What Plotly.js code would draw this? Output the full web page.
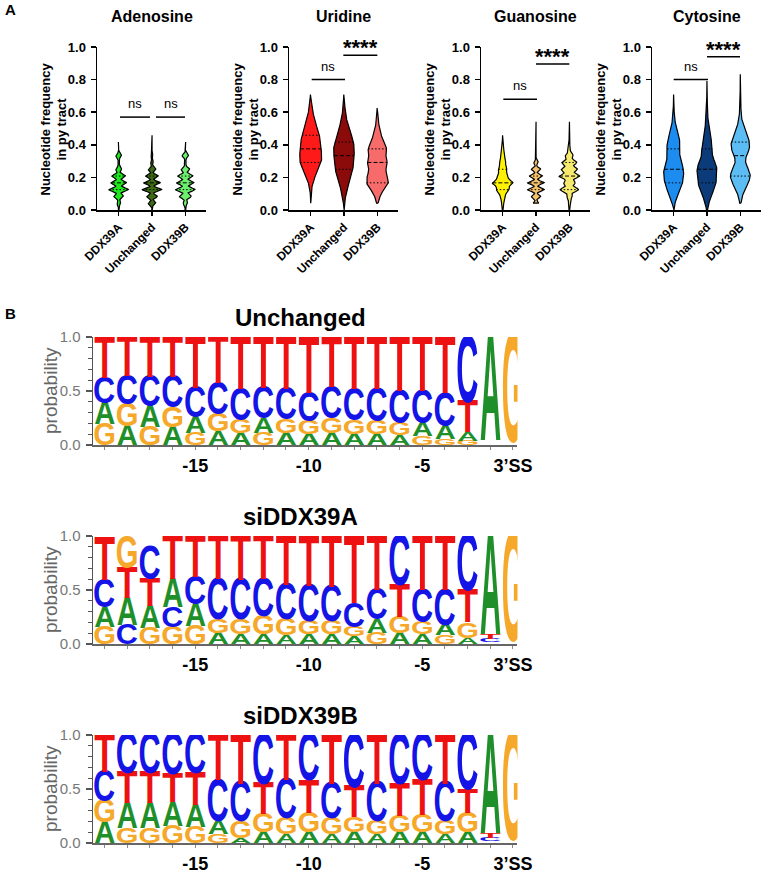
<!DOCTYPE html>
<html>
<head>
<meta charset="utf-8">
<script src="https://cdn.plot.ly/plotly-3.0.1.min.js"></script>
<style>html,body{margin:0;padding:0;background:#fff;}#chart{width:764px;height:874px;}</style>
</head>
<body>
<div id="chart"></div>
<script>
// ===================== DATA =====================
const nucleotides = ['Adenosine', 'Uridine', 'Guanosine', 'Cytosine'];
const groups = ['DDX39A', 'Unchanged', 'DDX39B'];
// nucleotide frequency levels in the py tract (k/24)
const frequencyLevels = [0, 0.0417, 0.0833, 0.125, 0.1667, 0.2083, 0.25, 0.2917, 0.3333, 0.375, 0.4167,
  0.4583, 0.5, 0.5417, 0.5833, 0.625, 0.6667, 0.7083, 0.75, 0.7917, 0.8333];
// relative number of introns at each frequency level
const adenosineDDX39A    = [0.3, 2, 5, 10, 8, 7, 3, 1, 3, 0, 0.3];
const adenosineUnchanged = [0.2, 4, 5.5, 10, 8.5, 6.5, 4, 1.5, 1, 0.1, 0.05, 0.05];
const adenosineDDX39B    = [0.3, 2, 5.5, 9, 8, 7, 4, 1, 3, 0, 0.3];
const uridineDDX39A      = [0, 0.05, 0.2, 0.5, 2, 4, 7, 10, 10, 9.5, 9, 8, 6, 4, 2.5, 1.3, 0.6, 0.2];
const uridineUnchanged   = [0.1, 0.5, 1.5, 3, 5, 7, 9, 9.5, 10, 10.5, 9.5, 7.5, 5, 3, 1.8, 1, 0.5, 0.2];
const uridineDDX39B      = [0, 0.5, 2, 5, 9, 8, 6.5, 8, 6.5, 7.5, 5.5, 3, 1.8, 0.9, 0.4, 0.2];
const guanosineDDX39A    = [0.3, 1, 2.5, 6, 10, 5, 4, 3, 2, 1, 0.3, 0.1];
const guanosineUnchanged = [0, 3, 5, 9, 9, 7, 5, 2.5, 0.2, 0.6, 0.05, 0.05, 0.05, 0.05];
const guanosineDDX39B    = [0.3, 1, 2.5, 8, 5, 9, 7, 6.5, 3.5, 1, 0.4, 0.2, 0.1, 0.1];
const cytosineDDX39A     = [0.2, 1, 3, 6, 8, 9, 9, 7, 5, 6, 6, 4, 2.5, 1.2, 0.6, 0.3, 0.15, 0.05];
const cytosineUnchanged  = [0.3, 1.5, 3.5, 6, 8, 8, 9, 7, 4.2, 5, 4, 3, 1.8, 1, 0.6, 0.4, 0.25, 0.15, 0.08, 0.05];
const cytosineDDX39B     = [0, 0.5, 1.5, 4, 7, 9, 7, 4, 5, 8, 8, 6, 3.5, 1.5, 0.8, 0.5, 0.3, 0.2, 0.1, 0.08, 0.05];

// significance comparisons per panel
const sigLabels = [['ns', 'ns'], ['ns', '****'], ['ns', '****'], ['ns', '****']];
const sigFrom   = [[0.04, 1.12], [0.03, 0.98], [0.02, 1.0], [0.0, 1.0]];
const sigTo     = [[0.94, 1.99], [1.03, 2.0], [1.03, 2.0], [1.03, 1.99]];
const sigLevel  = [[0.57, 0.57], [0.80, 0.95], [0.68, 0.895], [0.80, 0.94]];

// sequence logos: positions upstream of the 3' splice site
const positions = [-19, -18, -17, -16, -15, -14, -13, -12, -11, -10, -9, -8, -7, -6, -5, -4, -3, -2, -1];
const logoTickVals = [-15, -10, -5, -1];
const logoTickText = ['-15', '-10', '-5', '3’SS'];
const logoTitles = ['Unchanged', 'siDDX39A', 'siDDX39B'];
const unchangedT = [.38,.36,.37,.37,.47,.43,.48,.47,.48,.52,.46,.48,.48,.50,.50,.52,.28,.02,.01];
const unchangedC = [.23,.26,.27,.28,.27,.28,.29,.28,.28,.26,.29,.29,.30,.30,.30,.30,.60,.02,.01];
const unchangedA = [.20,.18,.19,.17,.15,.13,.11,.14,.11,.10,.11,.10,.10,.09,.12,.12,.08,.95,.02];
const unchangedG = [.19,.20,.17,.18,.11,.16,.12,.11,.13,.12,.14,.13,.12,.11,.08,.06,.04,.01,.96];
const siDDX39AT = [.39,.27,.25,.40,.38,.40,.41,.40,.45,.46,.47,.62,.50,.30,.50,.50,.30,.04,.01];
const siDDX39AC = [.25,.18,.30,.18,.25,.37,.36,.34,.32,.33,.32,.22,.27,.45,.30,.32,.50,.03,.01];
const siDDX39AA = [.18,.25,.20,.26,.20,.10,.09,.09,.08,.09,.09,.07,.13,.10,.09,.10,.06,.91,.02];
const siDDX39AG = [.16,.28,.15,.16,.17,.13,.14,.17,.15,.12,.12,.09,.10,.15,.11,.08,.14,.02,.96];
const siDDX39BT = [.34,.28,.28,.26,.30,.42,.45,.28,.42,.30,.45,.28,.45,.30,.32,.45,.22,.04,.01];
const siDDX39BC = [.27,.35,.35,.36,.35,.38,.35,.45,.35,.42,.32,.48,.35,.45,.42,.35,.50,.03,.01];
const siDDX39BA = [.19,.23,.23,.22,.20,.12,.05,.10,.08,.10,.08,.10,.08,.10,.10,.08,.10,.91,.02];
const siDDX39BG = [.20,.14,.14,.16,.15,.08,.15,.17,.15,.18,.15,.14,.12,.15,.16,.12,.18,.02,.96];

// ===================== STYLE =====================
const W = 764, H = 874;
const FONT = 'Liberation Sans, Arial, sans-serif';
const violinColors = [
  ['#1ee81e', '#3d6b14', '#6cf06c'],
  ['#ff1a1a', '#8b0a0a', '#f76b6b'],
  ['#fff200', '#f5c26b', '#f6ea6e'],
  ['#1c8cf0', '#0c3b7a', '#5cbcf4']];
const violinBw = [[0.011, 0.010, 0.011], [0.026, 0.026, 0.02], [0.016, 0.010, 0.013], [0.024, 0.024, 0.022]];
const violinHalfWidth = [[0.29, 0.29, 0.29], [0.33, 0.31, 0.33], [0.31, 0.25, 0.31], [0.30, 0.30, 0.30]];
const panelLeftPx = [97, 289, 481, 652], panelWidthPx = 109, panelTopPx = 47, panelBottomPx = 210;
const logoLeftPx = 93;
const logoTopPx = [337, 536, 735], logoHeightPx = 108;
const logoRange = [-19.5, -0.8];
const logoColPx = 22.7;
const logoRightPx = logoLeftPx + logoColPx * (logoRange[1] - logoRange[0]);
const minDrawnLetter = 0.03; // letters thinner than this are not drawn (invisible in a logo)
const letterColors = {A: '#1f8f2a', C: '#1414e6', G: '#f5a82a', T: '#ee1111'};

const data = {
  violins: [
    [adenosineDDX39A, adenosineUnchanged, adenosineDDX39B],
    [uridineDDX39A, uridineUnchanged, uridineDDX39B],
    [guanosineDDX39A, guanosineUnchanged, guanosineDDX39B],
    [cytosineDDX39A, cytosineUnchanged, cytosineDDX39B]],
  logos: [
    {A: unchangedA, C: unchangedC, G: unchangedG, T: unchangedT},
    {A: siDDX39AA, C: siDDX39AC, G: siDDX39AG, T: siDDX39AT},
    {A: siDDX39BA, C: siDDX39BC, G: siDDX39BG, T: siDDX39BT}]
};

// ===================== HELPERS =====================
function density(counts, bw, y) {
  let s = 0;
  for (let k = 0; k < counts.length; k++) {
    const c = counts[k];
    if (c > 0) { const z = (y - frequencyLevels[k]) / bw; s += c * Math.exp(-0.5 * z * z); }
  }
  return s;
}
function quantile(counts, p) {
  const tot = counts.reduce((a, b) => a + b, 0);
  let cum = 0;
  for (let k = 0; k < counts.length; k++) {
    cum += counts[k];
    if (cum >= p * tot - 1e-9) return frequencyLevels[k];
  }
  return frequencyLevels[counts.length - 1];
}
const ax = (l, n) => l + (n === 1 ? '' : n);
const axKey = (l, n) => l + 'axis' + (n === 1 ? '' : n);

const traces = [];
const layout = {
  width: W, height: H, margin: {l: 0, r: 0, t: 0, b: 0},
  paper_bgcolor: '#fff', plot_bgcolor: 'rgba(0,0,0,0)',
  font: {family: FONT, color: '#000'}, showlegend: false,
  annotations: [], shapes: []
};

// ===================== VIOLIN PANELS =====================
nucleotides.forEach((name, p) => {
  const n = p + 1;
  const xd = [panelLeftPx[p] / W, (panelLeftPx[p] + panelWidthPx) / W];
  const yd = [1 - panelBottomPx / H, 1 - panelTopPx / H];
  layout[axKey('x', n)] = {
    domain: xd, range: [-0.65, 2.62], anchor: ax('y', n),
    tickvals: [0, 1, 2], ticktext: groups, tickangle: -45,
    tickfont: {size: 12, weight: 'bold', family: FONT, color: '#000'},
    showline: true, linecolor: '#000', linewidth: 1.5, ticks: 'outside', ticklen: 4, tickwidth: 1.5, tickcolor: '#000',
    showgrid: false, zeroline: false, fixedrange: true
  };
  layout[axKey('y', n)] = {
    domain: yd, range: [0, 1], anchor: ax('x', n),
    tickvals: [0, 0.2, 0.4, 0.6, 0.8, 1.0], ticktext: ['0.0', '0.2', '0.4', '0.6', '0.8', '1.0'],
    tickfont: {size: 13, weight: 'bold', family: FONT, color: '#000'},
    showline: true, linecolor: '#000', linewidth: 1.5, ticks: 'outside', ticklen: 5, tickwidth: 1.5, tickcolor: '#000',
    showgrid: false, zeroline: false, fixedrange: true, ticklabelstandoff: 2
  };
  const medX = [], medY = [], qX = [], qY = [];
  data.violins[p].forEach((counts, g) => {
    const bw = violinBw[p][g], hwMax = violinHalfWidth[p][g];
    let kmin = counts.findIndex(c => c > 0), kmax = counts.length - 1;
    while (counts[kmax] <= 0) kmax--;
    const y0 = frequencyLevels[kmin], y1 = frequencyLevels[kmax];
    const N = 400, ys = [], ds = [];
    for (let i = 0; i <= N; i++) { const y = y0 + (y1 - y0) * i / N; ys.push(y); ds.push(density(counts, bw, y)); }
    const mx = Math.max(...ds);
    const xs = [], yy = [];
    for (let i = 0; i <= N; i++) { xs.push(g + hwMax * ds[i] / mx); yy.push(ys[i]); }
    for (let i = N; i >= 0; i--) { xs.push(g - hwMax * ds[i] / mx); yy.push(ys[i]); }
    xs.push(xs[0]); yy.push(yy[0]);
    traces.push({type: 'scatter', mode: 'lines', x: xs, y: yy, fill: 'toself', fillcolor: violinColors[p][g],
      line: {color: '#000', width: 1.2}, xaxis: ax('x', n), yaxis: ax('y', n), hoverinfo: 'skip', showlegend: false});
    [0.25, 0.5, 0.75].forEach(q => {
      const v = quantile(counts, q);
      const hw = hwMax * density(counts, bw, v) / mx;
      if (q === 0.5) { medX.push(g - hw, g + hw, null); medY.push(v, v, null); }
      else { qX.push(g - hw, g + hw, null); qY.push(v, v, null); }
    });
  });
  traces.push({type: 'scatter', mode: 'lines', x: medX, y: medY, line: {color: '#000', width: 1, dash: '4px,2px'},
    xaxis: ax('x', n), yaxis: ax('y', n), hoverinfo: 'skip', showlegend: false, connectgaps: false});
  traces.push({type: 'scatter', mode: 'lines', x: qX, y: qY, line: {color: '#000', width: 1, dash: '1.5px,2px'},
    xaxis: ax('x', n), yaxis: ax('y', n), hoverinfo: 'skip', showlegend: false, connectgaps: false});

  layout.annotations.push({text: name, xref: 'paper', yref: 'paper', x: (panelLeftPx[p] + panelWidthPx / 2) / W, y: 1 - 17 / H,
    xanchor: 'center', yanchor: 'middle', showarrow: false, font: {size: 16, weight: 'bold', family: FONT, color: '#000'}});
  layout.annotations.push({text: 'Nucleotide frequency<br>in py tract', xref: 'paper', yref: 'paper',
    x: (panelLeftPx[p] - 44) / W, y: 1 - ((panelTopPx + panelBottomPx) / 2 + 1) / H, textangle: -90,
    xanchor: 'center', yanchor: 'middle', showarrow: false, font: {size: 13, weight: 'bold', family: FONT, color: '#000'}});
  sigLabels[p].forEach((lab, j) => {
    const h = sigLevel[p][j];
    layout.shapes.push({type: 'line', xref: ax('x', n), yref: ax('y', n), x0: sigFrom[p][j], x1: sigTo[p][j], y0: h, y1: h,
      line: {color: '#000', width: 1.5}});
    const star = lab !== 'ns';
    layout.annotations.push({text: lab, xref: ax('x', n), yref: ax('y', n), x: (sigFrom[p][j] + sigTo[p][j]) / 2, y: h,
      xanchor: 'center', yanchor: 'bottom', yshift: star ? -7 : 4, showarrow: false,
      font: star ? {size: 22, weight: 'bold', family: FONT, color: '#000'} : {size: 13, family: FONT, color: '#000'}});
  });
});

layout.annotations.push({text: 'A', xref: 'paper', yref: 'paper', x: 3 / W, y: 1 - 10 / H, xanchor: 'left', yanchor: 'middle',
  showarrow: false, font: {size: 15, weight: 'bold', family: FONT, color: '#000'}});
layout.annotations.push({text: 'B', xref: 'paper', yref: 'paper', x: 3 / W, y: 1 - 313 / H, xanchor: 'left', yanchor: 'middle',
  showarrow: false, font: {size: 15, weight: 'bold', family: FONT, color: '#000'}});

// ===================== SEQUENCE LOGOS =====================
const letters = ['A', 'C', 'G', 'T'];
const logoHeights = [];
data.logos.forEach((logo, li) => {
  const n = 5 + li;
  const top = logoTopPx[li];
  layout[axKey('x', n)] = {
    domain: [logoLeftPx / W, logoRightPx / W], range: logoRange, anchor: ax('y', n),
    tickvals: logoTickVals, ticktext: logoTickText,
    tickfont: {size: 18, weight: 'bold', family: FONT, color: '#000'},
    showline: true, linecolor: '#666', linewidth: 1.5, ticks: 'outside', ticklen: 3, tickcolor: '#888', tickwidth: 1,
    minor: {dtick: 1, tick0: -19, ticks: 'outside', ticklen: 3, tickcolor: '#888', tickwidth: 1},
    showgrid: false, zeroline: false, fixedrange: true, ticklabelstandoff: 1
  };
  layout[axKey('y', n)] = {
    domain: [1 - (top + logoHeightPx) / H, 1 - top / H], range: [0, 1], anchor: ax('x', n),
    tickvals: [0, 0.5, 1], ticktext: ['0.0', '0.5', '1.0'],
    tickfont: {size: 15, family: FONT, color: '#777'},
    showline: true, linecolor: '#555', linewidth: 1.5, ticks: 'outside', ticklen: 6, tickcolor: '#555', tickwidth: 1.2,
    minor: {dtick: 0.1, ticks: 'outside', ticklen: 4, tickcolor: '#555', tickwidth: 1},
    showgrid: false, zeroline: false, fixedrange: true, ticklabelstandoff: 2
  };
  const xs = [], ys = [], txt = [], cols = [], hts = [];
  positions.forEach((pos, i) => {
    const stack = letters.map(L => ({L, p: logo[L][i]})).sort((a, b) => a.p - b.p);
    let base = 0;
    stack.forEach(o => {
      if (o.p >= minDrawnLetter) { xs.push(pos); ys.push(base); txt.push(o.L); cols.push(letterColors[o.L]); hts.push(o.p); }
      base += o.p;
    });
  });
  logoHeights.push(hts);
  traces.push({type: 'scatter', mode: 'text', x: xs, y: ys, text: txt, customdata: hts, meta: 'logo' + li,
    textposition: 'middle center', cliponaxis: true,
    textfont: {family: 'Liberation Sans', size: 30, weight: 'bold', color: cols},
    xaxis: ax('x', n), yaxis: ax('y', n), hoverinfo: 'skip', showlegend: false});
  layout.annotations.push({text: logoTitles[li], xref: 'paper', yref: 'paper', x: 300 / W, y: 1 - (top - 20) / H,
    xanchor: 'center', yanchor: 'middle', showarrow: false, font: {size: 24, weight: 'bold', family: FONT, color: '#000'}});
  layout.annotations.push({text: 'probability', xref: 'paper', yref: 'paper', x: 50 / W, y: 1 - (top + logoHeightPx / 2) / H,
    textangle: -90, xanchor: 'center', yanchor: 'middle', showarrow: false, font: {size: 19, family: FONT, color: '#666'}});
});

// stretch logo letters to fill their (column x probability) boxes
function stretchLetters(gd) {
  const ctx = document.createElement('canvas').getContext('2d');
  const fs = 30;
  ctx.font = 'bold ' + fs + 'px "Liberation Sans"';
  const met = {};
  letters.forEach(L => {
    const m = ctx.measureText(L);
    met[L] = {left: m.actualBoundingBoxLeft, right: m.actualBoundingBoxRight, asc: m.actualBoundingBoxAscent, desc: m.actualBoundingBoxDescent};
  });
  const colPx = logoColPx;
  const unitPx = logoHeightPx;
  gd.querySelectorAll('g.trace.scatter').forEach(g => {
    const cd = g.__data__;
    if (!cd || !cd[0] || !cd[0].trace) return;
    const tr = cd[0].trace;
    if (typeof tr.meta !== 'string' || tr.meta.indexOf('logo') !== 0) return;
    const hts = logoHeights[+tr.meta.slice(4)];
    g.querySelectorAll('g.textpoint text').forEach((t, idx) => {
      const d = t.__data__;
      const i = (d && typeof d.i === 'number') ? d.i : idx;
      const L = t.textContent.trim();
      const m = met[L]; if (!m) return;
      const cx = +t.getAttribute('x'), by = +t.getAttribute('y');
      const h = hts[i] * unitPx, w = 0.9 * colPx;
      const sx = w / (m.left + m.right), sy = h / (m.asc + m.desc);
      t.parentNode.removeAttribute('transform');
      t.setAttribute('x', 0); t.setAttribute('y', 0); t.removeAttribute('dy');
      t.setAttribute('text-anchor', 'start');
      t.setAttribute('transform', 'translate(' + (cx - w / 2) + ',' + by + ') scale(' + sx + ',' + sy + ') translate(' + m.left + ',' + (-m.desc) + ')');
    });
  });
}

const gd = document.getElementById('chart');
Plotly.newPlot(gd, traces, layout, {staticPlot: true, displayModeBar: false}).then(() => stretchLetters(gd));
</script>
</body>
</html>
